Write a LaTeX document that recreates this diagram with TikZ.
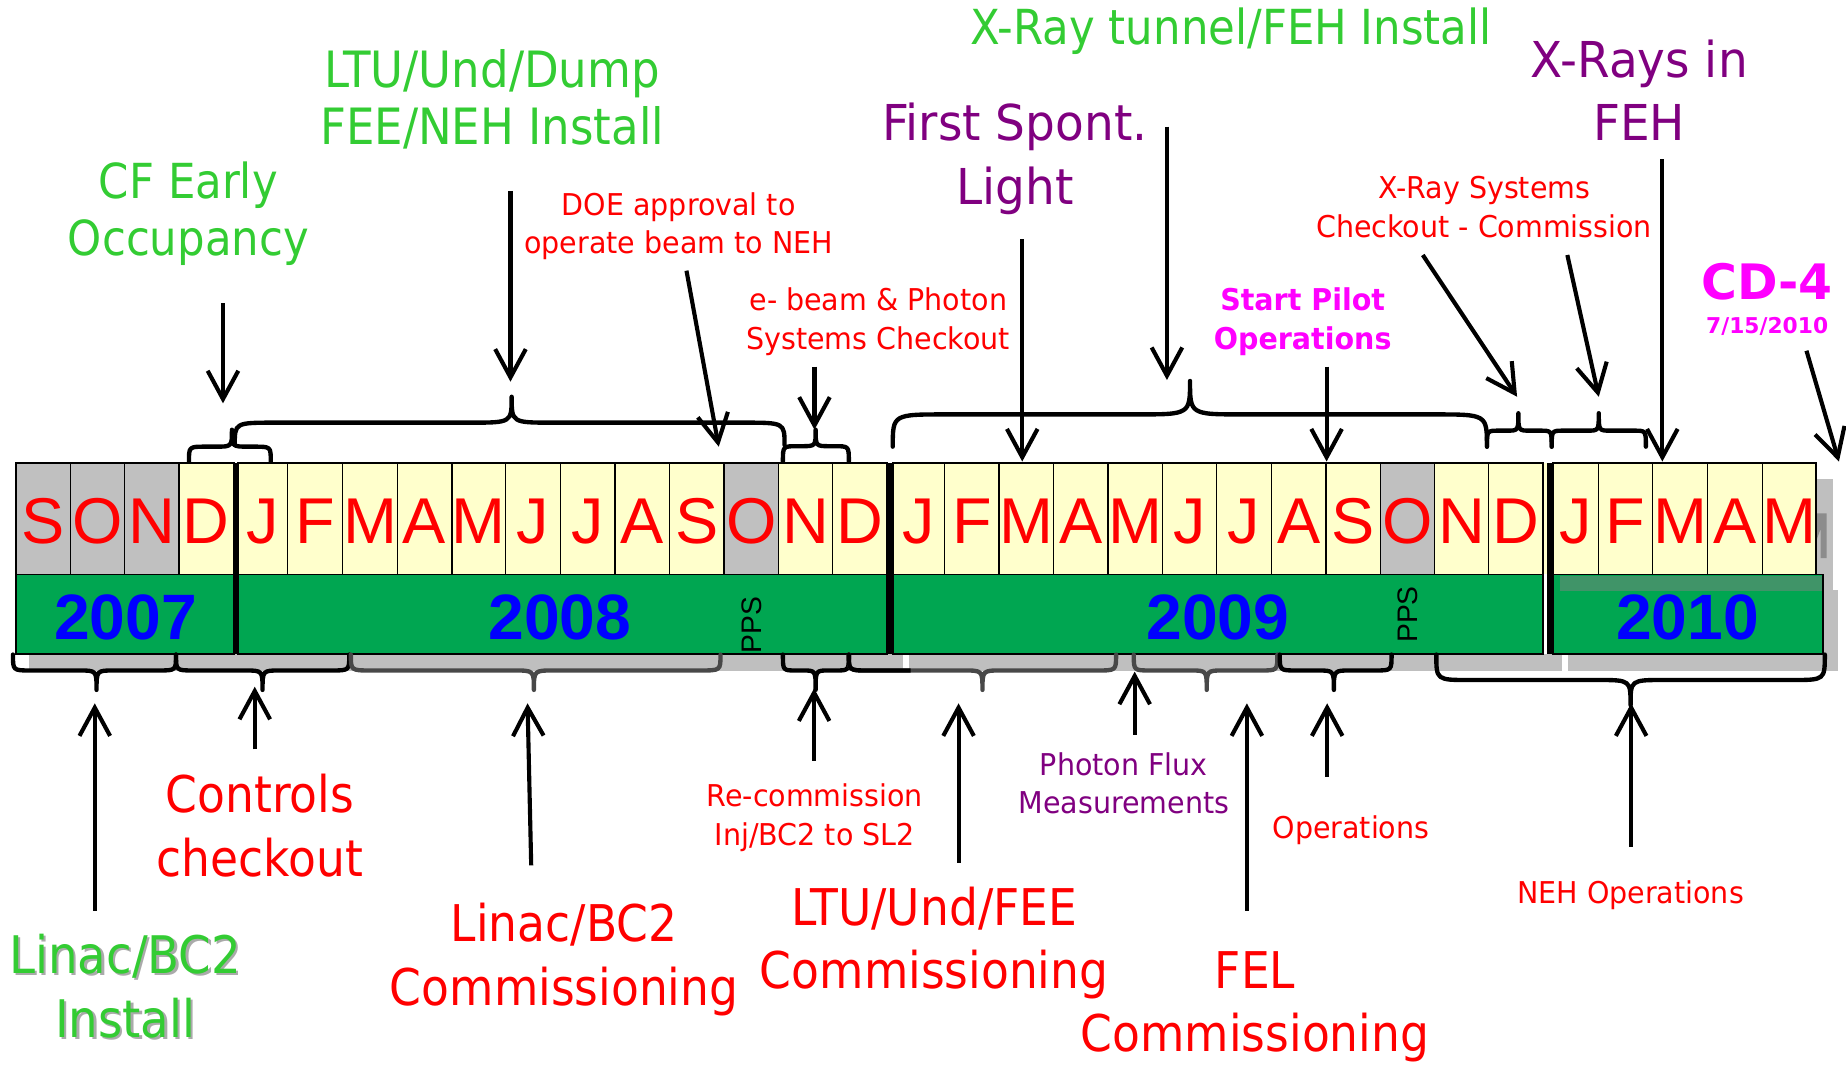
\documentclass[tikz,border=0pt]{standalone}
\usepackage{fontspec}
\usetikzlibrary{arrows.meta}
\newfontfamily\lblfont{DejaVu Sans}[FakeStretch=0.9]
\newfontfamily\smlfont{DejaVu Sans}[FakeStretch=0.95]
\newfontfamily\verfont{DejaVu Sans}
\newfontfamily\arlfont{Liberation Sans}
\definecolor{lgreen}{RGB}{51,204,51}
\definecolor{purp}{RGB}{128,0,128}
\definecolor{magen}{RGB}{255,0,255}
\definecolor{cellyel}{RGB}{255,255,204}
\definecolor{cellgray}{RGB}{192,192,192}
\definecolor{bandgreen}{RGB}{0,166,81}
\definecolor{stripgreen}{RGB}{64,148,104}
\definecolor{dkgray}{RGB}{72,72,72}
\definecolor{shadowgray}{RGB}{191,191,191}
\definecolor{ghostgray}{RGB}{140,140,140}
\definecolor{txtshadow}{RGB}{170,170,170}
\newcommand\hstrut{\rule{0pt}{0.8em}}
\newcommand\mybrace[8][black]{%
  \draw[bracestroke,#1] (#2,#5) .. controls (#2,#6) .. ({#2+#8},#6) -- ({#4-#8},#6)
    .. controls (#4,#6) .. (#4,#7) .. controls (#4,#6) .. ({#4+#8},#6)
    -- ({#3-#8},#6) .. controls (#3,#6) .. (#3,#5);}
\tikzset{
  bracestroke/.style={line width=3.7pt, line join=round, line cap=round},
  tlarr/.style={line width=3.5pt, -{Straight Barb[length=24pt,width=26pt]}},
  cellline/.style={line width=1.1pt, draw=black},
  blockline/.style={line width=1.6pt, draw=black},
  tlmonth/.style={anchor=base, inner sep=0pt, text=red, font=\arlfont\fontsize{55}{60}\selectfont},
  tlyear/.style={anchor=base, inner sep=0pt, text=blue, font=\arlfont\bfseries\fontsize{54.5}{60}\selectfont},
  tlpps/.style={inner sep=0pt, rotate=90, font=\arlfont\fontsize{24}{28}\selectfont},
  biglbl/.style={anchor=north, inner sep=0pt, align=center},
  single/.style={anchor=base, inner sep=0pt},
  tllbl/.style 2 args={font={\lblfont\fontsize{#1}{#2}\selectfont}},
  tlsml/.style 2 args={font={\smlfont\fontsize{#1}{#2}\selectfont}},
  tlsmlb/.style 2 args={font={\smlfont\bfseries\fontsize{#1}{#2}\selectfont}},
}
\begin{document}
\begin{tikzpicture}[x=1pt,y=-1pt]
\useasboundingbox (0,0) rectangle (1568,904);
% shadows
\fill[shadowgray] (25,555.5) rectangle (767.3,569.7);
\fill[shadowgray] (772.4,555.5) rectangle (1326.6,569.7);
\fill[shadowgray] (1332,555.5) rectangle (1561,569.7);
\fill[shadowgray] (1543,407) rectangle (1556.6,501);
\fill[shadowgray] (1548.7,501) rectangle (1561,569.7);
\fill[ghostgray] (1542.5,436) -- (1551.6,436) -- (1551.6,474) -- (1546.5,474) -- (1546.5,449) -- (1542.5,460) -- cycle;
% month cells
\foreach \l/\r/\m/\c [count=\i] in {
 13.4/59.8/S/cellgray, 59.8/105.7/O/cellgray, 105.7/152/N/cellgray, 152/198.4/D/cellyel,
 201.8/244.2/J/cellyel, 244.2/291.1/F/cellyel, 291.1/337.4/M/cellyel, 337.4/383.8/A/cellyel,
 383.8/429.6/M/cellyel, 429.6/476/J/cellyel, 476/522.4/J/cellyel, 522.4/568.7/A/cellyel,
 568.7/615/S/cellyel, 615/661.3/O/cellgray, 661.3/707.2/N/cellyel, 707.2/753.1/D/cellyel,
 758.4/802.4/J/cellyel, 802.4/848.5/F/cellyel, 848.5/895.1/M/cellyel, 895.1/941.1/A/cellyel,
 941.1/987.2/M/cellyel, 987.2/1033.2/J/cellyel, 1033.2/1079.9/J/cellyel, 1079.9/1126.4/A/cellyel,
 1126.4/1172.4/S/cellyel, 1172.4/1218.5/O/cellgray, 1218.5/1264.5/N/cellyel, 1264.5/1310.3/D/cellyel,
 1319.4/1357.6/J/cellyel, 1357.6/1403.8/F/cellyel, 1403.8/1450.2/M/cellyel, 1450.2/1496.9/A/cellyel,
 1496.9/1542.5/M/cellyel}{
  \draw[cellline, fill=\c] (\l,393) rectangle (\r,488);
  \node[tlmonth] (mon\i) at ({(\l+\r)/2},461.5) {\m};
}
\fill[cellyel] (1310.3,393.6) rectangle (1313.7,487.4);
\draw[blockline] (13.4,393) rectangle (198.4,488);
\draw[blockline] (201.8,393) rectangle (753.1,488);
\draw[blockline] (758.4,393) rectangle (1310.3,488);
\draw[blockline] (1319.4,393) rectangle (1542.5,488);
% year band
\draw[blockline, fill=bandgreen] (13.4,488) rectangle (198.4,555.5);
\draw[blockline, fill=bandgreen] (201.8,488) rectangle (753.1,555.5);
\draw[blockline, fill=bandgreen] (758.4,488) rectangle (1310.3,555.5);
\fill[bandgreen] (1319.4,488) rectangle (1548.7,555.5);
\fill[stripgreen] (1325,489.3) rectangle (1548,501.7);
\draw[blockline] (1319.4,488) rectangle (1548.7,555.5);
% thick separators
\draw[line width=3.4pt] (200.1,393) -- (200.1,555.5);
\draw[line width=4.2pt] (756.2,393) -- (756.2,555.5);
\draw[line width=5.7pt] (1316.6,393) -- (1316.6,555.5);
% years
\node[tlyear] (y2007) at (106.5,543) {2007};
\node[tlyear] (y2008) at (475.5,543) {2008};
\node[tlyear] (y2009) at (1034.5,543) {2009};
\node[tlyear] (y2010) at (1433.5,543) {2010};
\node[tlpps] (pps1) at (638.7,531) {PPS};
\node[tlpps] (pps2) at (1196,522) {PPS};
% top braces
\mybrace{160.5}{230}{197}{392}{379.4}{365}{14}
\mybrace{199.4}{666.4}{434.6}{378}{359}{337}{35}
\mybrace{665}{721}{692.8}{392}{379}{365}{12}
\mybrace{758.3}{1263}{1010.8}{379.4}{352}{323.6}{45}
\mybrace{1263}{1318}{1289.7}{379.4}{365.8}{351}{10}
\mybrace{1318}{1398}{1358}{379.4}{365.8}{351}{10}
% bottom braces
\mybrace{11}{149.5}{82}{556}{569.5}{586}{15}
\mybrace{149.5}{296.7}{223}{556}{569.5}{586}{15}
\mybrace[dkgray]{298}{612}{453.5}{556}{569.5}{586}{17}
\mybrace{665}{721}{692.8}{556}{569.5}{586}{11}
\mybrace[dkgray]{721}{948}{834.5}{556}{569.5}{586}{16}
\begin{scope}
\clip (700,540) rectangle (773.5,600);
\mybrace{721}{948}{834.5}{556}{569.5}{586}{16}
\end{scope}
\mybrace[dkgray]{963}{1085}{1025}{556}{569.5}{586}{14}
\mybrace{1087}{1182}{1133}{556}{569.5}{586}{14}
\mybrace{1220}{1550}{1385}{556}{577.6}{599}{28}
% arrow end points
\coordinate (cfA) at (189.4,257.7);   \coordinate (cfB) at (189.4,342.6);
\coordinate (ltuA) at (433.6,162.2);  \coordinate (ltuB) at (433.6,324.2);
\coordinate (doeA) at (583.1,229.9);  \coordinate (doeB) at (610.5,379.4);
\coordinate (ebA) at (691.8,311.5);   \coordinate (ebB) at (691.8,365);
\coordinate (fsA) at (868.3,203.3);   \coordinate (fsB) at (868.3,392);
\coordinate (tunA) at (991.2,107.6);  \coordinate (tunB) at (991.2,322.8);
\coordinate (spA) at (1126.8,311.5);  \coordinate (spB) at (1126.8,392);
\coordinate (xs1A) at (1208.5,216.6); \coordinate (xs1B) at (1288.6,337);
\coordinate (xs2A) at (1331.3,216.6); \coordinate (xs2B) at (1358,337);
\coordinate (fehA) at (1412,135.3);   \coordinate (fehB) at (1412,392);
\coordinate (cdA) at (1534.4,297.9);  \coordinate (cdB) at (1562,392);
\coordinate (liA) at (80.5,773.5);    \coordinate (liB) at (80.5,597.4);
\coordinate (coA) at (216.4,636.5);   \coordinate (coB) at (216.4,583.3);
\coordinate (lcA) at (451.2,735);     \coordinate (lcB) at (448.1,597.4);
\coordinate (reA) at (691.5,646.1);   \coordinate (reB) at (691.5,584.7);
\coordinate (lfA) at (814.2,732.8);   \coordinate (lfB) at (814.2,597.4);
\coordinate (phA) at (963.8,624);     \coordinate (phB) at (963.8,570.5);
\coordinate (feA) at (1059.1,773.5);  \coordinate (feB) at (1059.1,597.4);
\coordinate (opA) at (1127.3,659.7);  \coordinate (opB) at (1127.3,597.4);
\coordinate (neA) at (1385.5,719.2);  \coordinate (neB) at (1385.5,597.4);
\foreach \p in {cf,ltu,doe,eb,fs,tun,sp,xs1,xs2,feh,cd,li,co,lc,re,lf,ph,fe,op,ne}{
  \draw[tlarr] (\p A) -- (\p B);
}
% labels top
\node[biglbl, tllbl={41}{48}, text=lgreen] (cf) at (160,135.7) {\hstrut CF Early\\Occupancy};
\node[biglbl, tllbl={42.5}{48.1}, text=lgreen] (ltu) at (418,40.2) {\hstrut LTU/Und/Dump\\FEE/NEH Install};
\node[biglbl, tlsml={25.5}{32.6}, text=red] (doe) at (576.5,162.2) {\hstrut DOE approval to\\operate beam to NEH};
\node[biglbl, tlsml={25.5}{32.5}, text=red] (ebeam) at (746,243.5) {\hstrut e- beam \& Photon\\Systems Checkout};
\node[biglbl, tlsml={42}{54.4}, text=purp] (first) at (862,85.3) {\hstrut First Spont.\\Light};
\node[single, tllbl={41}{48}, text=lgreen] (tunnel) at (1045.6,38.2) {X-Ray tunnel/FEH Install};
\node[biglbl, tlsml={42}{53.2}, text=purp] (xrays) at (1392.3,32.1) {\hstrut X-Rays in\\FEH};
\node[biglbl, tlsml={25.5}{33.4}, text=red] (xsys) at (1260.6,148.1) {\hstrut X-Ray Systems\\Checkout - Commission};
\node[biglbl, tlsmlb={25.5}{32.5}, text=magen] (pilot) at (1106.5,243.5) {\hstrut Start Pilot\\Operations};
\node[single, text=magen, font=\verfont\bfseries\fontsize{41.5}{48}\selectfont] (cd4) at (1501,254.8) {CD-4};
\node[single, text=magen, font=\verfont\bfseries\fontsize{18.5}{22}\selectfont] (cddate) at (1501,283.1) {7/15/2010};
% labels bottom
\node[biglbl, tllbl={43}{54.3}, text=red] (controls) at (220.7,655.9) {\hstrut Controls\\checkout};
\node[biglbl, tllbl={44}{54.4}, text=txtshadow] (linacshadow) at (108.4,793.5) {\hstrut Linac/BC2\\Install};
\node[biglbl, tllbl={44}{54.4}, text=lgreen] (linacinst) at (106.4,791.5) {\hstrut Linac/BC2\\Install};
\node[biglbl, tllbl={43}{54.4}, text=red] (linaccomm) at (479.2,764.9) {\hstrut Linac/BC2\\Commissioning};
\node[biglbl, tlsml={25.5}{33.1}, text=red] (recomm) at (692,664.8) {\hstrut Re-commission\\Inj/BC2 to SL2};
\node[biglbl, tllbl={43}{53.8}, text=red] (ltufee) at (793.5,751.3) {\hstrut LTU/Und/FEE\\Commissioning};
\node[biglbl, tlsml={25.5}{32.5}, text=purp] (photon) at (954.6,637.9) {\hstrut Photon Flux\\Measurements};
\node[single, tlsml={25.5}{32}, text=red] (ops) at (1147.5,712.1) {Operations};
\node[biglbl, tllbl={43}{53.8}, text=red] (fel) at (1066,805.1) {\hstrut FEL\\Commissioning};
\node[single, tlsml={25.5}{32}, text=red] (neh) at (1385,767.3) {NEH Operations};
\end{tikzpicture}
\end{document}
